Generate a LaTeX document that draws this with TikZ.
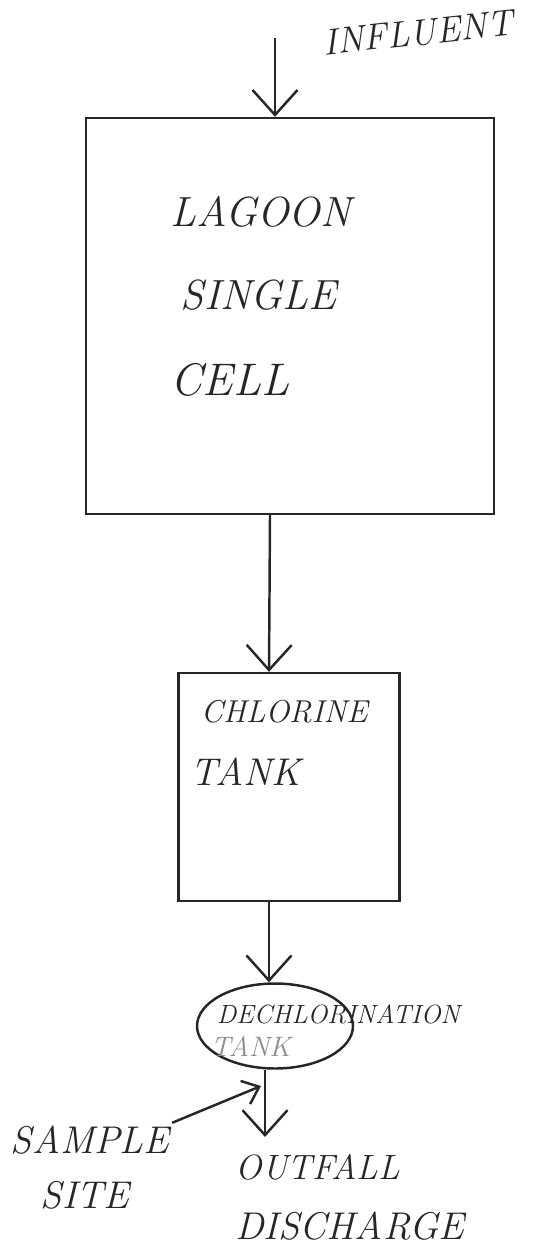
\documentclass[tikz,border=0pt]{standalone}
\usetikzlibrary{arrows.meta,positioning,shapes.geometric}

\begin{document}
\begin{tikzpicture}[x=0.02cm,y=-0.02cm,->,>={Straight Barb[length=5mm,width=9mm]},line width=1.4pt,
    box/.style={draw=black!85,rectangle,inner sep=0pt},
    hand/.style={font=\itshape,text=black!85,inner sep=1pt}]

                \useasboundingbox (0,0) rectangle (534,1253);

                % tanks
                \node[box, minimum width=8.16cm, minimum height=7.92cm] (lagoon) at (290,316) {};
                \node[box, minimum width=4.42cm, minimum height=4.56cm] (chlorine) at (289,787) {};
                \node[box, ellipse, minimum width=3.12cm, minimum height=1.7cm] (dech) at (275,1026) {};

                % labels
                \node[hand, font=\itshape\fontsize{21}{24}\selectfont, rotate=6] (influent) at (418,33) {INFLUENT};
                \node[hand, font=\itshape\fontsize{24}{28}\selectfont, anchor=west] (lag1) at (168,212) {LAGOON};
                \node[hand, font=\itshape\fontsize{24}{28}\selectfont, anchor=west] (lag2) at (178,295) {SINGLE};
                \node[hand, font=\itshape\fontsize{26}{30}\selectfont, anchor=west] (lag3) at (168,380) {CELL};
                \node[hand, font=\itshape\fontsize{18}{22}\selectfont, anchor=west] (chl1) at (198,712) {CHLORINE};
                \node[hand, font=\itshape\fontsize{22}{26}\selectfont, anchor=west] (chl2) at (188,772) {TANK};
                \node[hand, font=\itshape\fontsize{15}{18}\selectfont, anchor=west] (dech1) at (214,1014) {DECHLORINATION};
                \node[hand, font=\itshape\fontsize{16}{19}\selectfont, anchor=west, text=black!45] (dech2) at (208,1046) {TANK};
                \node[hand, font=\itshape\fontsize{22}{26}\selectfont] (sample) at (90,1140) {SAMPLE};
                \node[hand, font=\itshape\fontsize{22}{26}\selectfont] (site) at (85,1195) {SITE};
                \node[hand, font=\itshape\fontsize{20}{24}\selectfont] (outfall) at (318,1167) {OUTFALL};
                \node[hand, font=\itshape\fontsize{22}{26}\selectfont] (discharge) at (350,1226) {DISCHARGE};

                \coordinate (in) at (275,38);
                \coordinate (out) at (265,1137);
                \coordinate (samp) at (261,1086);

                \draw[black!85] (in) to (lagoon.north -| in);
                \draw[black!85] ([xshift=-0.4cm]lagoon.south) to ([xshift=-0.4cm]chlorine.north);
                \draw[black!85] ([xshift=-0.4cm]chlorine.south) to ([xshift=-0.4cm]chlorine.south |- dech.north);
                \draw[black!85] (dech.south -| out) to (out);
                \draw[black!85, >={Straight Barb[length=3mm,width=5mm]}] (sample.north east) to (samp);

                ;
            \end{tikzpicture}
\end{document}
